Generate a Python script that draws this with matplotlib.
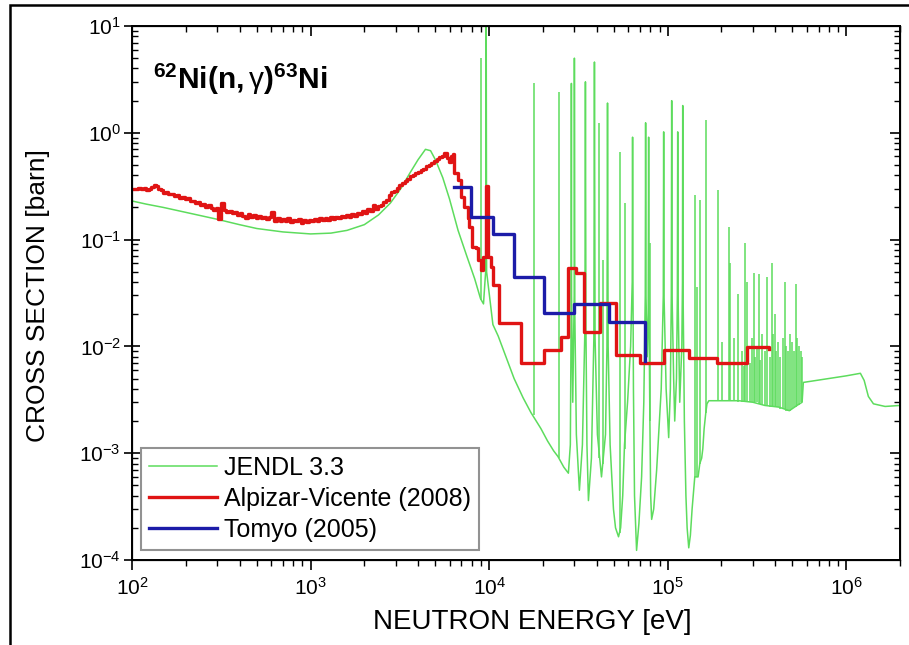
import matplotlib
matplotlib.use("Agg")
import matplotlib.pyplot as plt
from matplotlib.patches import Rectangle
from matplotlib.ticker import LogLocator, NullFormatter

plt.rcParams['font.family'] = ['Liberation Sans', 'DejaVu Sans']
plt.rcParams['mathtext.fontset'] = 'custom'
plt.rcParams['mathtext.rm'] = 'Liberation Sans'
plt.rcParams['mathtext.bf'] = 'Liberation Sans:bold'
plt.rcParams['mathtext.it'] = 'Liberation Sans:italic'

# ---------------- data ----------------
# JENDL 3.3 curve incl. broad resonances (eV, barn)
jendl_e = [100, 120, 150, 200, 300, 400, 500, 700, 1000, 1300, 1600, 2000, 2400, 2800, 3200,
           3600, 4000, 4400, 4700, 5000, 5500, 6000, 6700, 7500, 8300, 8950,
           9300, 9560, 9620, 9680, 10500, 11240, 12500, 13800, 15500, 17150, 19500, 21250, 23000,
           24300, 26200, 27790, 28500, 28800, 28890, 28950, 29400, 29950, 30030, 30200, 30800,
           32030, 33300, 34400, 34620, 34850, 35300, 35990, 37410, 38600, 38890, 39200, 40400,
           42590, 44850, 45700, 46030, 46400, 47600, 49700, 51040, 53050, 54500, 56000, 57300,
           59600, 62000, 63300, 63590, 63900, 64300, 65200, 66950, 69000, 71440, 73500, 74900,
           75230, 75600, 76800, 77800, 78220, 78600, 79500, 80300, 81310, 83500, 86750, 92000,
           94500, 94950, 95400, 98000, 101300, 103500, 104800, 105300, 105800, 108000, 109500,
           112000, 113300, 113800, 114300, 116800, 120000, 121000, 121400, 121800, 124000, 126500,
           128500, 131200, 134000, 137000, 141800, 148000, 151300, 155000, 157300, 160000, 163500,
           166000, 170000, 200000, 250000, 300000, 350000, 420000, 480000, 530000, 566000, 575000,
           800000, 1000000, 1200000, 1260000, 1330000, 1420000, 1650000, 2000000, 2100000]
jendl_xs = [0.23, 0.215, 0.20, 0.18, 0.155, 0.138, 0.127, 0.118, 0.113, 0.115, 0.122, 0.138, 0.17, 0.22, 0.30,
            0.42, 0.56, 0.70, 0.68, 0.56, 0.38, 0.24, 0.122, 0.07, 0.043, 0.028,
            0.025, 0.05, 30.0, 0.05, 0.016, 0.0125, 0.0078, 0.0050, 0.0033, 0.0024, 0.0017, 0.0013, 0.00105,
            0.00093, 0.00074, 0.00065, 0.0012, 0.02, 2.9, 0.03, 0.003, 0.03, 5.0, 0.02, 0.0015,
            0.00045, 0.0012, 0.015, 3.0, 0.015, 0.0012, 0.00036, 0.0009, 0.012, 4.6, 0.012, 0.0015,
            0.0006, 0.0015, 0.01, 1.9, 0.01, 0.0012, 0.0003, 0.0002, 0.000165, 0.0002, 0.0004, 0.0012,
            0.003, 0.01, 0.04, 0.91, 0.04, 0.004, 0.0004, 0.000123, 0.00022, 0.0006, 0.003, 0.03,
            1.24, 0.03, 0.008, 0.02, 0.91, 0.02, 0.002, 0.0004, 0.00024, 0.0003, 0.0007, 0.004,
            0.03, 1.02, 0.03, 0.004, 0.0014, 0.004, 0.03, 2.0, 0.03, 0.005, 0.002,
            0.005, 0.03, 1.02, 0.03, 0.003, 0.01, 0.04, 1.8, 0.04, 0.002, 0.0004,
            0.0002, 0.00013, 0.00017, 0.0003, 0.0006, 0.0006, 0.0008, 0.0009, 0.0011, 0.0017, 0.0024,
            0.0029, 0.0031, 0.0031, 0.0031, 0.0030, 0.0028, 0.0027, 0.0025, 0.0028, 0.0030, 0.0046,
            0.0050, 0.0053, 0.0056, 0.0048, 0.0034, 0.0029, 0.00274, 0.0028, 0.0028]

# JENDL 3.3 narrow resonances: energy, base, peak
res_e = [9020, 17900, 24700, 41500, 43700, 53740, 57340, 79240, 141800, 145600,
         151300, 163500, 190900, 201200, 220200, 223000, 234900, 247400, 260500, 267400,
         270800, 277900, 288800, 296500, 304200, 308100, 316200, 324500, 328800, 337500,
         350700, 359900, 374100, 384000, 389000, 399100, 404300, 415000, 425800, 442700,
         454300, 460300, 472300, 484600, 497300, 510500, 523700, 530500, 544500, 558700, 566000]
res_base = [0.027, 0.0023, 0.0009, 0.0009, 0.0008, 0.00018, 0.0011, 0.002, 0.0006, 0.0006,
            0.0008, 0.0024, 0.0031, 0.0031, 0.0031, 0.0031, 0.0031, 0.003, 0.003, 0.003,
            0.003, 0.003, 0.003, 0.003, 0.003, 0.003, 0.003, 0.0029, 0.0029, 0.0028,
            0.0028, 0.0028, 0.0027, 0.0027, 0.0027, 0.0027, 0.0027, 0.0027, 0.0026, 0.0026,
            0.0026, 0.0025, 0.0025, 0.0025, 0.0026, 0.0027, 0.0027, 0.0028, 0.0028, 0.003, 0.003]
res_peak = [5.0, 2.9, 2.4, 1.24, 0.064, 0.66, 0.22, 0.093, 0.26, 0.036,
            0.235, 1.32, 0.29, 0.011, 0.13, 0.06, 0.012, 0.031, 0.009, 0.0065,
            0.093, 0.04, 0.007, 0.012, 0.049, 0.008, 0.010, 0.048, 0.0075, 0.013,
            0.009, 0.045, 0.008, 0.06, 0.013, 0.02, 0.009, 0.011, 0.008, 0.012,
            0.04, 0.010, 0.009, 0.013, 0.011, 0.009, 0.038, 0.012, 0.010, 0.009, 0.008]

# Alpizar-Vicente (2008): bin left edges (eV) and cross section (barn)
alp_e = [100, 104, 108, 112, 116, 120, 124, 128, 132, 136, 140, 145, 150, 155, 160, 166, 172, 178,
         184, 190, 197, 204, 211, 218, 225, 233, 241, 249, 258, 267, 276, 285, 295, 305, 315, 326,
         337, 349, 361, 374, 387, 400, 414, 429, 444, 459, 475, 492, 509, 527, 545, 564, 584, 604,
         625, 647, 670, 693, 717, 742, 768, 795, 823, 852, 881, 912, 944, 977, 1011, 1046, 1083,
         1121, 1160, 1200, 1242, 1286, 1331, 1377, 1425, 1475, 1527, 1580, 1635, 1692, 1752, 1813,
         1876, 1942, 2010, 2080, 2153, 2228, 2306, 2387, 2470, 2557, 2646, 2739, 2834, 2934, 3036,
         3142, 3252, 3366, 3484, 3606, 3732, 3862, 3997, 4137, 4282, 4432, 4587, 4747, 4913, 5085,
         5263, 5447, 5590, 5800, 5960, 6100, 6280, 6360, 6700, 6970, 7240, 7630, 7740, 8020, 8450,
         8670, 9020, 9250, 9620, 9870, 10260, 10520, 11380, 15130, 20360, 25380, 27780, 30810,
         34180, 41520, 51670, 69660, 95020, 131300, 188500, 277700, 369000]
alp_xs = [0.300, 0.296, 0.305, 0.298, 0.302, 0.294, 0.300, 0.312, 0.322, 0.316, 0.298, 0.290, 0.276,
          0.282, 0.266, 0.270, 0.255, 0.260, 0.246, 0.250, 0.238, 0.244, 0.228, 0.232, 0.218, 0.224,
          0.210, 0.216, 0.204, 0.210, 0.198, 0.190, 0.196, 0.156, 0.222, 0.188, 0.180, 0.186, 0.176,
          0.180, 0.170, 0.176, 0.168, 0.160, 0.172, 0.164, 0.170, 0.160, 0.166, 0.158, 0.164, 0.156,
          0.162, 0.180, 0.150, 0.158, 0.148, 0.156, 0.150, 0.158, 0.146, 0.154, 0.148, 0.156, 0.144,
          0.152, 0.146, 0.154, 0.148, 0.156, 0.150, 0.158, 0.152, 0.160, 0.154, 0.162, 0.156, 0.164,
          0.158, 0.166, 0.162, 0.170, 0.164, 0.174, 0.168, 0.178, 0.174, 0.184, 0.178, 0.192, 0.186,
          0.212, 0.194, 0.206, 0.212, 0.224, 0.236, 0.262, 0.278, 0.288, 0.302, 0.322, 0.340, 0.352,
          0.370, 0.390, 0.402, 0.420, 0.432, 0.448, 0.462, 0.486, 0.500, 0.526, 0.546, 0.566, 0.590,
          0.612, 0.640, 0.580, 0.530, 0.600, 0.630, 0.420, 0.360, 0.250, 0.200, 0.160, 0.130, 0.086,
          0.084, 0.064, 0.052, 0.069, 0.320, 0.069, 0.055, 0.0376, 0.0166, 0.0070, 0.0093, 0.0123,
          0.0545, 0.0487, 0.0137, 0.0254, 0.0083, 0.0070, 0.0093, 0.0078, 0.0070, 0.0099, 0.0095]

# Tomyo (2005): bin left edges (eV) and cross section (barn)
tom_e = [6360, 7920, 10520, 13810, 20360, 30050, 46660, 74300, 74300]
tom_xs = [0.31, 0.163, 0.113, 0.0447, 0.0206, 0.0249, 0.0169, 0.0169, 0.0073]

labels = ["JENDL 3.3", "Alpizar-Vicente (2008)", "Tomyo (2005)"]
title = r"$\mathbf{^{62}Ni(n,}\mathrm{\gamma}\mathbf{)^{63}Ni}$"

# ---------------- figure ----------------
W, H = 909, 645
fig = plt.figure(figsize=(W / 100, H / 100), dpi=100)
ax = fig.add_axes([132 / W, 1 - 560 / H, (900 - 132) / W, (560 - 26) / H])

green = '#5ddc5d'
red = '#e01414'
blue = '#1c1ca8'

ax.plot(jendl_e, jendl_xs, color=green, lw=1.1, zorder=2, label=labels[0])
ax.vlines(res_e, res_base, res_peak, color=green, lw=1.1, zorder=2)
ax.plot(alp_e, alp_xs, color=red, lw=2.4, drawstyle='steps-post', zorder=3, label=labels[1])
ax.plot(tom_e, tom_xs, color=blue, lw=2.4, drawstyle='steps-post', zorder=4, label=labels[2])

ax.set_xscale('log')
ax.set_yscale('log')
ax.set_xlim(100, 2.0e6)
ax.set_ylim(1e-4, 10)

ax.xaxis.set_major_locator(LogLocator(base=10, numticks=20))
ax.yaxis.set_major_locator(LogLocator(base=10, numticks=20))
ax.xaxis.set_minor_locator(LogLocator(base=10, subs=range(2, 10), numticks=100))
ax.yaxis.set_minor_locator(LogLocator(base=10, subs=range(2, 10), numticks=100))
ax.xaxis.set_minor_formatter(NullFormatter())
ax.yaxis.set_minor_formatter(NullFormatter())

ax.tick_params(axis='x', which='major', direction='out', length=7, width=1.2, labelsize=15, pad=5)
ax.tick_params(axis='x', which='minor', direction='out', length=4, width=1.0)
ax.tick_params(axis='y', which='major', direction='inout', length=12, width=1.2, labelsize=15, pad=2)
ax.tick_params(axis='y', which='minor', direction='in', length=4, width=1.0)
for s in ax.spines.values():
    s.set_linewidth(1.4)

# top / right inward ticks
axt = ax.twiny()
axt.set_xscale('log')
axt.set_xlim(ax.get_xlim())
axt.xaxis.set_major_locator(LogLocator(base=10, numticks=20))
axt.xaxis.set_minor_locator(LogLocator(base=10, subs=range(2, 10), numticks=100))
axt.tick_params(axis='x', which='major', direction='in', length=7, width=1.2, labeltop=False)
axt.tick_params(axis='x', which='minor', direction='in', length=4, width=1.0)
axr = ax.twinx()
axr.set_yscale('log')
axr.set_ylim(ax.get_ylim())
axr.yaxis.set_major_locator(LogLocator(base=10, numticks=20))
axr.yaxis.set_minor_locator(LogLocator(base=10, subs=range(2, 10), numticks=100))
axr.tick_params(axis='y', which='major', direction='in', length=7, width=1.2, labelright=False)
axr.tick_params(axis='y', which='minor', direction='in', length=4, width=1.0)

ax.set_xlabel("NEUTRON ENERGY [eV]", fontsize=20)
ax.xaxis.set_label_coords(0.521, -0.092)
ax.set_ylabel("CROSS SECTION [barn]", fontsize=19)
ax.yaxis.set_label_coords(-0.107, 0.496)

ax.text(0.027, 0.900, title, transform=ax.transAxes, fontsize=21.5, va='center', ha='left', zorder=6)

leg = ax.legend(loc='lower left', bbox_to_anchor=(9 / 768, 10 / 534), borderaxespad=0,
                fontsize=18, frameon=True, fancybox=False, edgecolor='#777777',
                handlelength=2.7, handletextpad=0.3, labelspacing=0.28, borderpad=0.32)
leg.get_frame().set_linewidth(1.5)
leg.set_zorder(10)

fig.patches.append(Rectangle((10 / W, -0.1), 1.2, 1.1 - 5 / H, transform=fig.transFigure,
                             fill=False, edgecolor='black', lw=1.8))

fig.savefig('out.png', dpi=100)
